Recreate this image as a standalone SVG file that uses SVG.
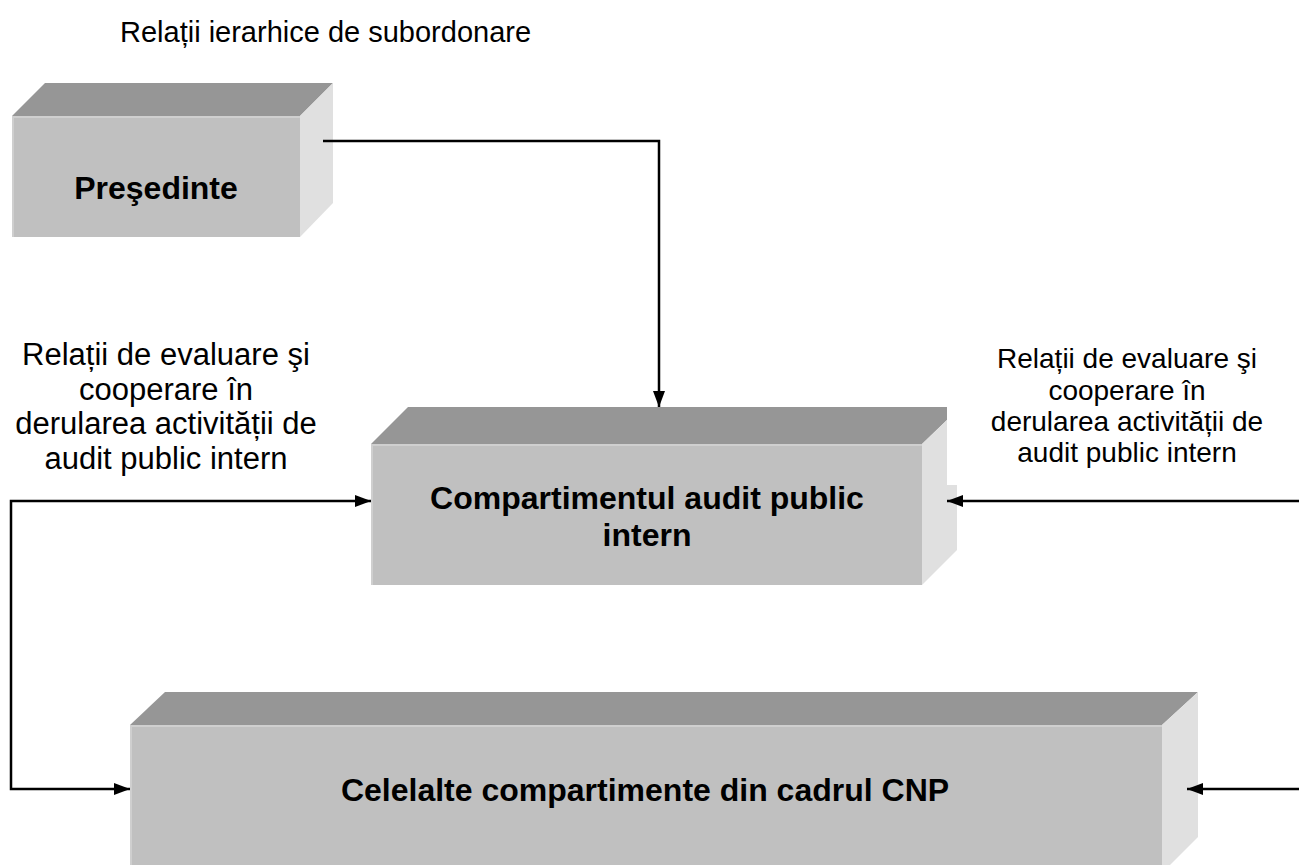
<svg xmlns="http://www.w3.org/2000/svg" width="1299" height="865" viewBox="0 0 1299 865">
<style>
.top{fill:#969696}
.front{fill:#c0c0c0}
.side{fill:#e0e0e0}
.edge{fill:none;stroke:#cfcfcf;stroke-width:2}
.lbl{font-family:"Liberation Sans",Arial,sans-serif;font-weight:bold;font-size:32px;fill:#000;text-anchor:middle}
.txt{font-family:"Liberation Sans",Arial,sans-serif;fill:#000;text-anchor:middle}
.conn{fill:none;stroke:#000;stroke-width:2.5}
</style>
<defs>
<marker id="arr" viewBox="0 0 16 12" refX="16" refY="6" markerWidth="16" markerHeight="12" markerUnits="userSpaceOnUse" orient="auto-start-reverse">
<path d="M0,0 L16,6 L0,12 Z" fill="#000"/>
</marker>
</defs>
<rect width="1299" height="865" fill="#fff"/>
<text class="txt" x="120" y="42" font-size="29" style="text-anchor:start">Relații ierarhice de subordonare</text>

<g id="presedinte">
<polygon class="top" points="12,116 45,83 333,83 300,116"/>
<polygon class="side" points="300,116 333,83 333,203 300,237"/>
<rect class="front" x="12" y="116" width="288" height="121"/>
<polyline class="edge" points="13,237 13,117 300,117"/>
<text class="lbl" x="156" y="199">Preşedinte</text>
</g>

<g id="compartiment">
<polygon class="top" points="371,444 408,407 947,407 947,420 922,444"/>
<polygon class="side" points="922,444 947,420 947,485 957,485 957,550 922,585"/>
<rect class="front" x="371" y="444" width="551" height="141"/>
<polyline class="edge" points="372,585 372,445 922,445"/>
<text class="lbl" x="647" y="509">Compartimentul audit public</text>
<text class="lbl" x="647" y="546">intern</text>
</g>

<g id="celelalte">
<polygon class="top" points="130,725 165,692 1198,692 1162,725"/>
<polygon class="side" points="1162,725 1198,692 1198,837 1162,873"/>
<rect class="front" x="130" y="725" width="1032" height="148"/>
<polyline class="edge" points="131,873 131,726 1162,726"/>
<text class="lbl" x="645" y="801">Celelalte compartimente din cadrul CNP</text>
</g>

<g id="label-left" class="txt" font-size="31">
<text x="166" y="365">Relații de evaluare şi</text>
<text x="166" y="400">cooperare în</text>
<text x="166" y="434">derularea activității de</text>
<text x="166" y="469">audit public intern</text>
</g>

<g id="label-right" class="txt" font-size="28">
<text x="1127" y="368">Relații de evaluare şi</text>
<text x="1127" y="400">cooperare în</text>
<text x="1127" y="431">derularea activității de</text>
<text x="1127" y="462">audit public intern</text>
</g>

<g id="connectors">
<polyline class="conn" points="323,141 659,141 659,407" marker-end="url(#arr)"/>
<polyline class="conn" points="371,501 11,501 11,789 130,789" marker-start="url(#arr)" marker-end="url(#arr)"/>
<line class="conn" x1="1299" y1="501" x2="947" y2="501" marker-end="url(#arr)"/>
<line class="conn" x1="1299" y1="789" x2="1187" y2="789" marker-end="url(#arr)"/>
</g>
</svg>
